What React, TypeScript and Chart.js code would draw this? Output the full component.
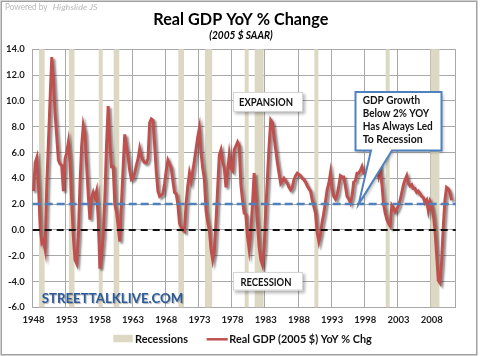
import React, { useEffect, useRef } from 'react';
import { Chart, registerables } from 'chart.js';

Chart.register(...registerables);

// ---------- data ----------
const FIRST_YEAR = 1948;
const LAST_YEAR = 2011;
const LAST_LABEL = '2011Q3';
const Y_MIN = -6;
const Y_MAX = 14;
const Y_STEP = 2;

const xTickYears = [1948, 1953, 1958, 1963, 1968, 1973, 1978, 1983, 1988, 1993, 1998, 2003, 2008];

// Real GDP (2005 $) YoY % change, quarterly from 1948Q1
const gdpYoY = [
  3.0, 5.2, 5.6, 3.4, // 1948
  0.2, -1.0, -0.8, -1.5, // 1949
  3.5, 6.8, 10.2, 13.4, // 1950
  11.6, 9.0, 7.2, 5.4, // 1951
  5.1, 5.0, 3.0, 5.5, // 1952
  6.0, 6.8, 5.3, 2.2, // 1953
  -0.5, -2.3, -2.6, -0.6, // 1954
  3.5, 6.5, 8.1, 7.5, // 1955
  5.0, 2.7, 0.8, 2.5, // 1956
  2.9, 2.5, 3.0, 0.9, // 1957
  -3.0, -2.0, -0.5, 2.5, // 1958
  6.5, 9.6, 6.8, 4.9, // 1959
  4.9, 2.0, 1.4, 0.3, // 1960
  -0.9, 2.0, 4.8, 7.4, // 1961
  6.5, 5.7, 4.6, 3.9, // 1962
  4.0, 4.4, 5.0, 5.5, // 1963
  6.3, 5.7, 5.4, 5.2, // 1964
  5.2, 5.5, 8.3, 8.6, // 1965
  8.5, 6.6, 4.5, 3.0, // 1966
  2.6, 2.7, 2.8, 3.6, // 1967
  4.6, 5.4, 5.1, 4.8, // 1968
  3.8, 2.9, 2.8, 2.0, // 1969
  0.5, 0.2, 0.0, -0.1, // 1970
  2.1, 3.4, 4.4, 3.8, // 1971
  4.5, 5.4, 6.3, 7.2, // 1972
  7.9, 6.0, 4.8, 3.9, // 1973
  1.5, 0.6, 0.0, -1.5, // 1974
  -2.3, -1.6, 0.6, 3.2, // 1975
  5.8, 6.2, 5.3, 4.8, // 1976
  3.3, 4.5, 5.8, 4.8, // 1977
  4.6, 6.2, 6.5, 6.8, // 1978
  6.5, 3.5, 2.3, 1.3, // 1979
  1.2, -0.5, -1.5, -0.2, // 1980
  2.0, 4.4, 2.5, 0.5, // 1981
  -1.3, -2.3, -2.7, -1.5, // 1982
  1.5, 4.0, 6.5, 8.5, // 1983
  8.3, 7.2, 6.2, 5.2, // 1984
  4.4, 3.6, 3.8, 4.0, // 1985
  3.8, 3.6, 3.3, 3.1, // 1986
  3.3, 3.9, 4.2, 4.4, // 1987
  4.3, 4.2, 4.0, 3.9, // 1988
  3.7, 3.4, 3.2, 3.0, // 1989
  2.3, 1.8, 1.3, -0.2, // 1990
  -0.9, -0.3, 0.6, 1.3, // 1991
  2.2, 3.1, 3.6, 4.4, // 1992
  3.2, 2.6, 2.4, 2.7, // 1993
  3.4, 4.2, 4.1, 4.1, // 1994
  3.4, 2.6, 2.4, 2.1, // 1995
  2.6, 3.7, 3.8, 4.4, // 1996
  4.4, 4.6, 4.9, 4.4, // 1997
  4.4, 4.0, 4.3, 4.9, // 1998
  4.8, 4.6, 4.6, 4.8, // 1999
  4.2, 4.9, 3.6, 2.0, // 2000
  1.3, 0.8, 0.5, 0.3, // 2001
  1.9, 1.7, 1.4, 1.6, // 2002
  1.9, 2.3, 2.9, 3.5, // 2003
  3.9, 4.2, 3.6, 3.4, // 2004
  3.5, 3.2, 3.2, 2.9, // 2005
  3.0, 2.8, 2.6, 2.5, // 2006
  2.1, 2.3, 1.5, 2.2, // 2007
  1.9, 1.2, 0.0, -1.9, // 2008
  -3.9, -4.1, -2.5, 0.2, // 2009
  2.3, 3.3, 3.2, 2.9, // 2010
  2.3, // 2011
];

const recessionStarts = ['1949Q1', '1953Q3', '1958Q1', '1960Q2', '1970Q1', '1974Q1', '1980Q1', '1981Q3', '1990Q3', '2001Q2', '2008Q1'];
const recessionEnds = ['1949Q3', '1954Q1', '1958Q2', '1960Q4', '1970Q3', '1974Q4', '1980Q2', '1982Q3', '1990Q4', '2001Q3', '2009Q1'];

const legendLabels = ['Recessions', 'Real GDP (2005 $) YoY % Chg'];
const titleText = 'Real GDP YoY % Change';
const subtitleText = '(2005 $ SAAR)';
const poweredText = ['Powered by', 'Highslide JS'];
const watermarkText = 'STREETTALKLIVE.COM';
const expansionText = 'EXPANSION';
const recessionText = 'RECESSION';
const calloutLines = ['GDP Growth', 'Below 2% YOY', 'Has Always Led', 'To Recession'];
const thresholdLevel = 2;
const zeroLevel = 0;
const calloutTipQuarter = '1997Q1';

// ---------- derived tables ----------
const quarterLabels: string[] = [];
for (let y = FIRST_YEAR; y <= LAST_YEAR; y++) {
  for (let q = 1; q <= 4; q++) quarterLabels.push(`${y}Q${q}`);
}
quarterLabels.length = quarterLabels.indexOf(LAST_LABEL) + 1;

const recessionData = quarterLabels.map((lab, i) => {
  const inside = recessionStarts.some((s, k) => {
    const a = quarterLabels.indexOf(s);
    const b = quarterLabels.indexOf(recessionEnds[k]);
    return i >= a && i <= b;
  });
  return inside ? [Y_MIN, Y_MAX] : null;
});

const isYearTick = (i: number) => {
  const lab = quarterLabels[i];
  if (!lab) return false;
  return lab.endsWith('Q1') && xTickYears.includes(Number(lab.slice(0, 4)));
};

// ---------- colours / fonts ----------
const RED = '#c0504d';
const BLUE = '#4f81bd';
const BEIGE = '#ddd8c4';
const GRID = '#a8a8a8';
const FONT = 'Lato, "Open Sans", "DejaVu Sans", sans-serif';

function fitText(ctx: CanvasRenderingContext2D, text: string, x: number, y: number, width: number, align: 'left' | 'center') {
  ctx.save();
  const w = ctx.measureText(text).width || 1;
  const sx = width / w;
  const left = align === 'center' ? x - width / 2 : x;
  ctx.translate(left, y);
  ctx.scale(sx, 1);
  ctx.textAlign = 'left';
  ctx.textBaseline = 'alphabetic';
  ctx.fillText(text, 0, 0);
  ctx.restore();
}

function shadowOn(ctx: CanvasRenderingContext2D, dx = 2, dy = 2, blur = 3, col = 'rgba(0,0,0,0.35)') {
  ctx.shadowColor = col;
  ctx.shadowOffsetX = dx;
  ctx.shadowOffsetY = dy;
  ctx.shadowBlur = blur;
}

const decor = {
  id: 'decor',
  beforeDatasetDraw(chart: any, args: any) {
    if (args.meta.type === 'line') {
      const ctx = chart.ctx;
      ctx.save();
      shadowOn(ctx, 2, 2, 2, 'rgba(0,0,0,0.45)');
    }
  },
  afterDatasetDraw(chart: any, args: any) {
    if (args.meta.type === 'line') chart.ctx.restore();
  },
  afterDatasetsDraw(chart: any) {
    const ctx: CanvasRenderingContext2D = chart.ctx;
    const { left, right } = chart.chartArea;
    const ys = chart.scales.y;
    const xs = chart.scales.x;

    // reference dashed lines
    ctx.save();
    ctx.lineWidth = 2.5;
    ctx.strokeStyle = BLUE;
    ctx.setLineDash([8, 4]);
    const y2 = ys.getPixelForValue(thresholdLevel);
    ctx.beginPath();
    ctx.moveTo(left, y2);
    ctx.lineTo(right, y2);
    ctx.stroke();
    ctx.lineWidth = 2;
    ctx.strokeStyle = '#111';
    ctx.setLineDash([7, 5]);
    const y0 = ys.getPixelForValue(zeroLevel);
    ctx.beginPath();
    ctx.moveTo(left, y0);
    ctx.lineTo(right, y0);
    ctx.stroke();
    ctx.restore();

    // label boxes
    const box = (x: number, y: number, w: number, h: number, text: string, tw: number, base: number) => {
      ctx.save();
      shadowOn(ctx, 2, 2, 3, 'rgba(0,0,0,0.3)');
      ctx.fillStyle = '#ffffff';
      ctx.fillRect(x, y, w, h);
      ctx.restore();
      ctx.save();
      ctx.strokeStyle = '#d4d4d4';
      ctx.lineWidth = 1;
      ctx.strokeRect(x + 0.5, y + 0.5, w - 1, h - 1);
      ctx.fillStyle = '#111';
      ctx.font = `bold 11px ${FONT}`;
      fitText(ctx, text, x + w / 2 - 2, base, tw, 'center');
      ctx.restore();
    };
    box(233, 92, 70, 20, expansionText, 54, 106);
    box(233, 272, 70, 18.5, recessionText, 51, 286);

    // callout
    const tipX = xs.getPixelForValue(quarterLabels.indexOf(calloutTipQuarter));
    const tipY = y2;
    const bx = 355.5, by = 92, bw = 86, bh = 58.5;
    const t1 = 371, t2 = 392;
    ctx.save();
    ctx.beginPath();
    ctx.moveTo(bx, by);
    ctx.lineTo(bx + bw, by);
    ctx.lineTo(bx + bw, by + bh);
    ctx.lineTo(t2, by + bh);
    ctx.lineTo(tipX, tipY);
    ctx.lineTo(t1, by + bh);
    ctx.lineTo(bx, by + bh);
    ctx.closePath();
    ctx.save();
    shadowOn(ctx, 2, 2, 3, 'rgba(0,0,0,0.25)');
    ctx.fillStyle = '#ffffff';
    ctx.fill();
    ctx.restore();
    ctx.lineWidth = 2;
    ctx.strokeStyle = BLUE;
    ctx.lineJoin = 'miter';
    ctx.stroke();
    ctx.fillStyle = '#111';
    ctx.font = `bold 11px ${FONT}`;
    const widths = [57.5, 66.5, 70, 60];
    calloutLines.forEach((ln, k) => fitText(ctx, ln, 362.7, 104.3 + k * 13, widths[k], 'left'));
    ctx.restore();

    // watermark
    ctx.save();
    shadowOn(ctx, 1, 1, 1, 'rgba(0,0,0,0.3)');
    ctx.fillStyle = '#2c5b9c';
    ctx.font = `bold 14px ${FONT}`;
    fitText(ctx, watermarkText, 41.7, 302.7, 141.5, 'left');
    ctx.restore();
  },
  afterDraw(chart: any) {
    const ctx: CanvasRenderingContext2D = chart.ctx;
    ctx.save();
    // title & subtitle
    ctx.fillStyle = '#000';
    ctx.font = `bold 17px ${FONT}`;
    fitText(ctx, titleText, 240.8, 25, 175, 'center');
    ctx.font = `italic bold 10.5px ${FONT}`;
    fitText(ctx, subtitleText, 241, 38.5, 63.5, 'center');
    // powered by
    ctx.fillStyle = '#b8b8b8';
    ctx.font = `8.5px ${FONT}`;
    fitText(ctx, poweredText[0], 5, 10, 42.5, 'left');
    ctx.font = `italic 8.5px ${FONT}`;
    fitText(ctx, poweredText[1], 52.7, 10, 45, 'left');

    // legend
    ctx.fillStyle = BEIGE;
    ctx.fillRect(113.3, 334.8, 19.5, 7.5);
    ctx.fillStyle = '#111';
    ctx.font = `bold 11.5px ${FONT}`;
    fitText(ctx, legendLabels[0], 135, 343, 53, 'left');
    ctx.strokeStyle = RED;
    ctx.lineWidth = 2.5;
    ctx.beginPath();
    ctx.moveTo(206.7, 339.3);
    ctx.lineTo(227.7, 339.3);
    ctx.stroke();
    fitText(ctx, legendLabels[1], 229.3, 343, 142.5, 'left');

    // outer frame
    ctx.strokeStyle = '#a0a0a0';
    ctx.lineWidth = 1.5;
    ctx.strokeRect(1.25, 1.25, 475.5, 353.5);
    ctx.restore();
  },
};

export default function App() {
  const ref = useRef<HTMLCanvasElement>(null);
  useEffect(() => {
    document.body.style.margin = '0';
    const canvas = ref.current!;
    const tickFont = { family: FONT, weight: 'bold' as const, size: 9.5 };
    const chart = new Chart(canvas, {
      type: 'bar',
      data: {
        labels: quarterLabels,
        datasets: [
          {
            type: 'line',
            label: legendLabels[1],
            data: gdpYoY,
            borderColor: RED,
            backgroundColor: RED,
            borderWidth: 3,
            pointRadius: 0,
            tension: 0,
            fill: false,
            order: 0,
          } as any,
          {
            type: 'bar',
            label: legendLabels[0],
            data: recessionData as any,
            backgroundColor: BEIGE,
            borderWidth: 0,
            barPercentage: 1,
            categoryPercentage: 1,
            order: 1,
          } as any,
        ],
      },
      options: {
        responsive: false,
        animation: false,
        events: [],
        layout: { padding: { left: 0, right: 24.3, top: 49.3, bottom: 28.7 } },
        plugins: {
          legend: { display: false },
          title: { display: false },
          tooltip: { enabled: false },
        },
        scales: {
          x: {
            offset: true,
            grid: {
              offset: true,
              drawTicks: false,
              lineWidth: 1,
              color: (c: any) => (c.type !== 'tick' || isYearTick(c.index) ? GRID : 'rgba(0,0,0,0)'),
            },
            border: { color: GRID, width: 1 },
            ticks: {
              autoSkip: false,
              maxRotation: 0,
              minRotation: 0,
              padding: 7,
              font: tickFont,
              color: '#1a1a1a',
              callback: (_v: any, i: number) => (isYearTick(i) ? quarterLabels[i].slice(0, 4) : ''),
            },
            afterFit: (s: any) => {
              s.height = 20;
            },
          },
          y: {
            min: Y_MIN,
            max: Y_MAX,
            grid: { color: GRID, drawTicks: false, lineWidth: 1 },
            border: { color: GRID, width: 1 },
            ticks: {
              stepSize: Y_STEP,
              padding: 8,
              font: tickFont,
              color: '#1a1a1a',
              callback: (v: any) => Number(v).toFixed(1),
            },
            afterFit: (s: any) => {
              s.width = 32.7;
            },
          },
        },
      },
      plugins: [decor],
    });
    return () => chart.destroy();
  }, []);
  return <canvas ref={ref} width={480} height={356} style={{ display: 'block', width: 480, height: 356 }} />;
}
